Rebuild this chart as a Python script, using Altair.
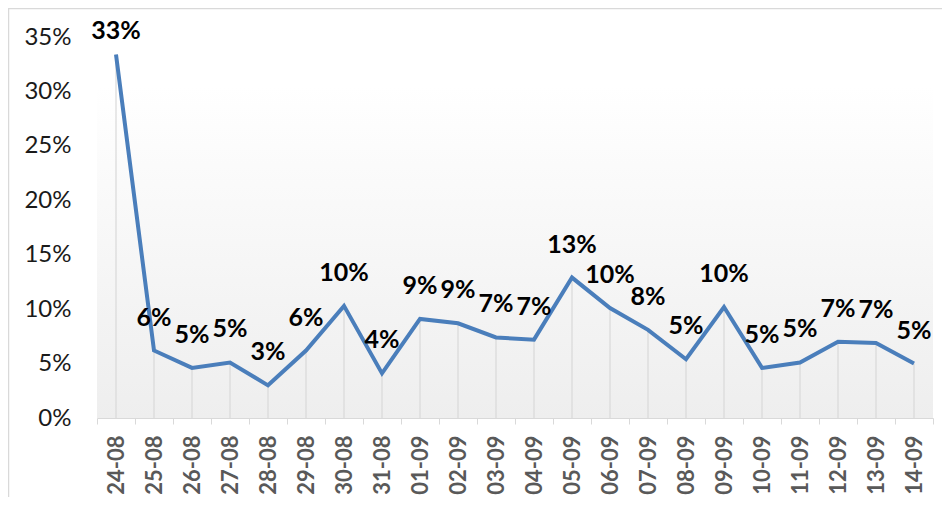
import altair as alt
import pandas as pd

dates = ["24-08", "25-08", "26-08", "27-08", "28-08", "29-08", "30-08", "31-08",
         "01-09", "02-09", "03-09", "04-09", "05-09", "06-09", "07-09", "08-09",
         "09-09", "10-09", "11-09", "12-09", "13-09", "14-09"]
values = [33.4, 6.2, 4.6, 5.1, 3.0, 6.2, 10.3, 4.1, 9.1, 8.7, 7.4, 7.2,
          12.9, 10.1, 8.1, 5.4, 10.2, 4.6, 5.1, 7.0, 6.9, 5.0]
labels = ["33%", "6%", "5%", "5%", "3%", "6%", "10%", "4%", "9%", "9%", "7%", "7%",
          "13%", "10%", "8%", "5%", "10%", "5%", "5%", "7%", "7%", "5%"]
y_ticks = [0, 0.05, 0.10, 0.15, 0.20, 0.25, 0.30, 0.35]

df = pd.DataFrame({"date": dates, "v": [x / 100 for x in values], "label": labels,
                   "first": [i == 0 for i in range(len(dates))]})

W, H = 836, 381
FONT = "Lato"

x_enc = alt.X("date:N", sort=dates, bandPosition=0.5,
              scale=alt.Scale(type="band", paddingInner=0, paddingOuter=0),
              axis=alt.Axis(title=None, labelAngle=270, tickBand="extent",
                            domainColor="#d9d9d9", tickColor="#d9d9d9", tickSize=6,
                            labelFont=FONT, labelFontSize=22, labelFontWeight="bold",
                            labelColor="#595959", labelPadding=11, grid=False))
y_enc = alt.Y("v:Q", scale=alt.Scale(domain=[0, 0.35], nice=False),
              axis=alt.Axis(title=None, values=y_ticks, format=".0%", ticks=False,
                            tickSize=0, domain=False, grid=False, labelFont=FONT,
                            labelFontSize=24, labelColor="#1a1a1a", labelPadding=26))

one = alt.Data(values=[{"a": 1}])

bg = alt.Chart(one).mark_rect(
    fill=alt.LinearGradient(gradient="linear",
                            stops=[alt.GradientStop(color="#ffffff", offset=0),
                                   alt.GradientStop(color="#eeeeee", offset=1)],
                            x1=0, x2=0, y1=0, y2=1)
).encode(x=alt.value(0), x2=alt.value("width"), y=alt.value(50), y2=alt.value("height"))

border = alt.Chart(one).mark_rect(filled=False, stroke="#d9d9d9", strokeWidth=1.5).encode(
    x=alt.value(-88.5), y=alt.value(-28.5), x2=alt.value(W + 40), y2=alt.value(H + 120))

base = alt.Chart(df)
drops = base.mark_rule(color="#d9d9d9", strokeWidth=1.2).encode(x=x_enc, y=y_enc, y2=alt.datum(0))
line = base.mark_line(color="#4a7ebb", strokeWidth=4, strokeJoin="miter").encode(x=x_enc, y=y_enc)
txt = base.transform_filter("!datum.first").mark_text(
    font=FONT, fontSize=25, fontWeight="bold", color="#000000", dy=-33, baseline="middle"
).encode(x=x_enc, y=y_enc, text="label:N")
txt0 = base.transform_filter("datum.first").mark_text(
    font=FONT, fontSize=25, fontWeight="bold", color="#000000", dy=-23, baseline="middle"
).encode(x=x_enc, y=y_enc, text="label:N")

chart = alt.layer(bg, border, drops, line, txt, txt0).properties(
    width=W, height=H,
    padding={"left": 89, "top": 29, "right": 9, "bottom": 79},
    autosize="none",
).configure_view(stroke=None)

chart.save("out.html", embed_options={"renderer": "svg", "actions": False})
